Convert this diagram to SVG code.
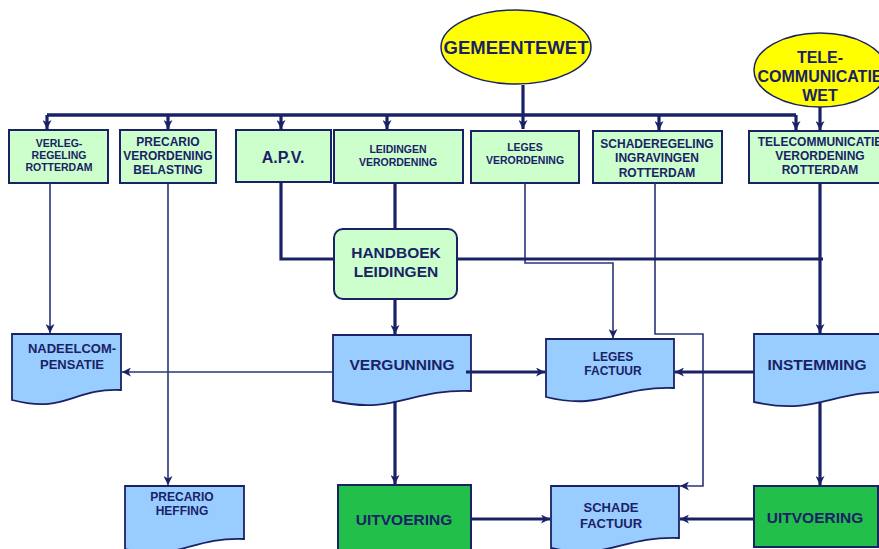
<svg xmlns="http://www.w3.org/2000/svg" width="879" height="549" viewBox="0 0 879 549">
<defs>
<marker id="ah" markerUnits="userSpaceOnUse" markerWidth="10" markerHeight="9" refX="9" refY="4.5" orient="auto">
<path d="M0,0 L9,4.5 L0,9 L2.5,4.5 z" fill="#1a2266"/>
</marker>
<style>
text{font-family:"Liberation Sans",Arial,sans-serif;font-weight:bold;fill:#1a2266;text-anchor:middle}
.law{fill:#ffff00;stroke:#1a2266;stroke-width:1.5}
.reg{fill:#ccffcc;stroke:#1a2266;stroke-width:2}
.doc{fill:#99ccff;stroke:#1a2266;stroke-width:1.8}
.act{fill:#22bf4b;stroke:#1a2266;stroke-width:2}
.thick{fill:none;stroke:#1a2266;stroke-width:3.2}
.bus{fill:none;stroke:#1a2266;stroke-width:3.6}
.thin{fill:none;stroke:#2b347a;stroke-width:1.6}
</style>
</defs>
<rect width="879" height="549" fill="#ffffff"/>

<g id="gemeentewet">
<ellipse class="law" cx="516" cy="47" rx="75" ry="37"/>
<text x="516" y="54" font-size="18.5">GEMEENTEWET</text>
</g>
<g id="telecommunicatiewet">
<ellipse class="law" cx="820" cy="70" rx="66" ry="37"/>
<text x="820" y="63" font-size="16">TELE-</text>
<text x="820" y="82" font-size="16">COMMUNICATIE</text>
<text x="820" y="101" font-size="16">WET</text>
</g>

<g id="verlegregeling">
<rect class="reg" x="9" y="130" width="99" height="53"/>
<text x="59" y="146.5" font-size="10.5">VERLEG-</text>
<text x="59" y="158.5" font-size="10.5">REGELING</text>
<text x="59" y="171" font-size="10.5">ROTTERDAM</text>
</g>
<g id="precarioverordening">
<rect class="reg" x="120" y="130" width="96" height="53"/>
<text x="168" y="146" font-size="12">PRECARIO</text>
<text x="168" y="160" font-size="12">VERORDENING</text>
<text x="168" y="174" font-size="12">BELASTING</text>
</g>
<g id="apv">
<rect class="reg" x="236" y="130" width="95" height="52"/>
<text x="283" y="163" font-size="16">A.P.V.</text>
</g>
<g id="leidingenverordening">
<rect class="reg" x="334" y="130" width="129" height="53"/>
<text x="398" y="153" font-size="10.5">LEIDINGEN</text>
<text x="398" y="166" font-size="10.5">VERORDENING</text>
</g>
<g id="legesverordening">
<rect class="reg" x="471" y="131" width="108" height="52"/>
<text x="525" y="151" font-size="10.5">LEGES</text>
<text x="525" y="164" font-size="10.5">VERORDENING</text>
</g>
<g id="schaderegeling">
<rect class="reg" x="593" y="131" width="129" height="52"/>
<text x="657" y="147.5" font-size="12">SCHADEREGELING</text>
<text x="657" y="162" font-size="12">INGRAVINGEN</text>
<text x="657" y="176.5" font-size="12">ROTTERDAM</text>
</g>
<g id="telecomverordening">
<rect class="reg" x="749" y="131" width="145" height="52"/>
<text x="820" y="146" font-size="12">TELECOMMUNICATIE</text>
<text x="820" y="160" font-size="12">VERORDENING</text>
<text x="820" y="174" font-size="12">ROTTERDAM</text>
</g>

<g id="handboek">
<rect class="reg" x="334" y="229" width="123" height="70" rx="9"/>
<text x="396" y="258" font-size="15.5">HANDBOEK</text>
<text x="396" y="276.5" font-size="15.5">LEIDINGEN</text>
</g>

<g id="nadeelcompensatie">
<path class="doc" d="M12,334 H121 V390 C72,388 66,414 12,400 Z"/>
<text x="72" y="353" font-size="13">NADEELCOM-</text>
<text x="72" y="369" font-size="13">PENSATIE</text>
</g>
<g id="vergunning">
<path class="doc" d="M333,335 H471 V391 C409,389 395,415 333,401 Z"/>
<text x="402" y="370" font-size="15.5">VERGUNNING</text>
</g>
<g id="legesfactuur">
<path class="doc" d="M546,339 H674 V388 C616,386 604,411 546,397 Z"/>
<text x="613" y="361" font-size="12">LEGES</text>
<text x="613" y="375" font-size="12">FACTUUR</text>
</g>
<g id="instemming">
<path class="doc" d="M754,334 H893 V392 C831,390 817,416 754,402 Z"/>
<text x="817" y="370" font-size="15.5">INSTEMMING</text>
</g>
<g id="precarioheffing">
<path class="doc" d="M125,486 H244 V539 C190,537 179,562 125,549 Z"/>
<text x="182" y="500.5" font-size="12">PRECARIO</text>
<text x="182" y="515" font-size="12">HEFFING</text>
</g>
<g id="schadefactuur">
<path class="doc" d="M551,486 H679 V538 C621,536 609,561 551,548 Z"/>
<text x="611" y="512" font-size="13">SCHADE</text>
<text x="611" y="528" font-size="13">FACTUUR</text>
</g>
<g id="uitvoering-gemeente">
<rect class="act" x="338" y="485" width="133" height="70"/>
<text x="404" y="525" font-size="15.5">UITVOERING</text>
</g>
<g id="uitvoering-telecom">
<rect class="act" x="754" y="486" width="124" height="61"/>
<text x="815" y="522.5" font-size="15.5">UITVOERING</text>
</g>

<g id="connectors">
<path class="bus" d="M47,115 H796"/>
<path class="thick" d="M523,85 V129" marker-end="url(#ah)"/>
<path class="thick" d="M47,115 V129" marker-end="url(#ah)"/>
<path class="thick" d="M168,115 V129" marker-end="url(#ah)"/>
<path class="thick" d="M281,115 V129" marker-end="url(#ah)"/>
<path class="thick" d="M387,115 V129" marker-end="url(#ah)"/>
<path class="thick" d="M659,115 V130" marker-end="url(#ah)"/>
<path class="thick" d="M796,115 V130" marker-end="url(#ah)"/>
<path class="thick" d="M820,107 V130" marker-end="url(#ah)"/>

<path class="thin" d="M50,183 V333" marker-end="url(#ah)"/>
<path class="thin" d="M168,183 V485" marker-end="url(#ah)"/>
<path class="thick" d="M281,182 V259 H334"/>
<path class="thick" d="M395,183 V229"/>
<path class="thin" d="M525,183 V263 H613 V338" marker-end="url(#ah)"/>
<path class="thin" d="M655,183 V334 H703 V486 H680" marker-end="url(#ah)"/>
<path class="thick" d="M820,183 V333" marker-end="url(#ah)"/>
<path class="thick" d="M457,259 H823"/>
<path class="thick" d="M395,299 V334" marker-end="url(#ah)"/>

<path class="thin" d="M333,372 H122" marker-end="url(#ah)"/>
<path class="thick" d="M466,372 H545" marker-end="url(#ah)"/>
<path class="thick" d="M395,401 V484" marker-end="url(#ah)"/>
<path class="thick" d="M754,372 H675" marker-end="url(#ah)"/>
<path class="thick" d="M820,403 V485" marker-end="url(#ah)"/>
<path class="thick" d="M471,519 H550" marker-end="url(#ah)"/>
<path class="thick" d="M754,519 H680" marker-end="url(#ah)"/>
</g>
</svg>
